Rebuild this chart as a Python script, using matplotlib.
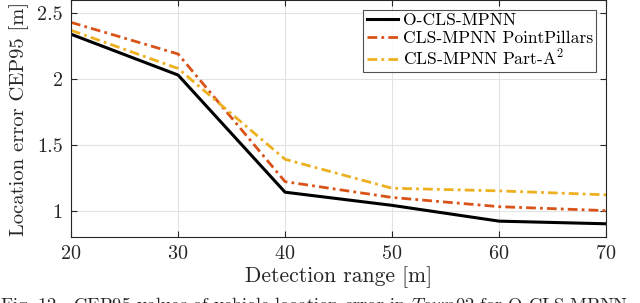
import matplotlib
matplotlib.use("Agg")
import matplotlib.pyplot as plt

ranges = [20, 30, 40, 50, 60, 70]
o_cls_mpnn = [2.34, 2.03, 1.14, 1.04, 0.92, 0.90]
cls_pointpillars = [2.43, 2.19, 1.22, 1.10, 1.03, 1.00]
cls_parta2 = [2.37, 2.08, 1.39, 1.17, 1.15, 1.12]
labels = ["O-CLS-MPNN", "CLS-MPNN PointPillars", "CLS-MPNN Part-A$^2$"]
yticks = [1, 1.5, 2, 2.5]
xticks = [20, 30, 40, 50, 60, 70]

plt.rcParams['font.family'] = ['cmr10']
plt.rcParams['mathtext.fontset'] = 'cm'
plt.rcParams['axes.formatter.use_mathtext'] = True

fig = plt.figure(figsize=(6.4, 3.03), dpi=100)
ax = fig.add_axes([0.111, 0.218, 0.836, 0.782])

ax.plot(ranges, o_cls_mpnn, color='black', lw=2.2, ls='-', label=labels[0])
ax.plot(ranges, cls_pointpillars, color='#D95319', lw=2.0, ls=(0, (3.5, 1.5, 1.0, 1.5)), label=labels[1])
ax.plot(ranges, cls_parta2, color='#EDB120', lw=2.0, ls=(0, (3.5, 1.5, 1.0, 1.5)), label=labels[2])

ax.set_xlim(20, 70)
ax.set_ylim(0.8, 2.6)
ax.set_xticks(xticks)
ax.set_yticks(yticks)
ax.set_yticklabels(['1', '1.5', '2', '2.5'])
ax.grid(True, color='#e3e3e3', lw=0.8)
ax.set_axisbelow(True)
ax.tick_params(direction='in', top=True, right=True, labelsize=14.5, length=4,
               colors='#262626', width=0.8, pad=6)
for tl in ax.get_xticklabels() + ax.get_yticklabels():
    tl.set_color('#262626')
for s in ax.spines.values():
    s.set_color('#262626')
    s.set_linewidth(0.8)

ax.set_xlabel('Detection range [m]', fontsize=15.5, labelpad=2, color='#262626')
ax.set_ylabel('Location error CEP95 [m]', fontsize=14.8, labelpad=6, color='#262626')

leg = ax.legend(loc='upper right', fontsize=12.6, frameon=True, fancybox=False,
                edgecolor='#262626', handlelength=1.8, handletextpad=0.25,
                borderpad=0.2, labelspacing=0.12, borderaxespad=0.55)
leg.get_frame().set_linewidth(0.8)

fig.text(0.0, -0.005, r'Fig. 12.  CEP95 values of vehicle location error in $\mathit{Town02}$ for O-CLS-MPNN',
         fontsize=13.3, ha='left', va='center', color='#222222')

fig.savefig('out.png', dpi=100)
